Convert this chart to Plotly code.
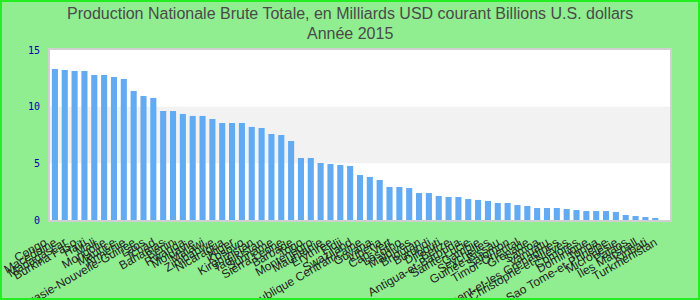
import plotly.graph_objects as go

countries = [
    "Congo", "Macédoine", "Madagascar", "Burkina Faso", "Haïti", "Mali", "Mongolie",
    "Maurice", "Arménie", "Papouasie-Nouvelle-Guinée", "Laos", "Tchad", "Bahamas",
    "Bénin", "Rwanda", "Moldavie", "Malawi", "Zimbabwe", "Nicaragua", "Niger",
    "Kosovo", "Kirghizistan", "Tadjikistan", "Suriname", "Sierra Leone", "Barbade",
    "Togo", "Monténégro", "Mauritanie", "Érythrée", "Fidji", "Swaziland",
    "République Centrafricaine", "Guyana", "Libéria", "Cap-Vert", "Lesotho",
    "Maldives", "Bhoutan", "Burundi", "Djibouti", "Belize", "Antigua-et-Barbuda",
    "Sainte-Lucie", "Gambie", "Seychelles", "Guinée-Bissau", "Salomon",
    "Timor-Oriental", "Grenade", "Samoa", "Vanuatu",
    "Saint-Vincent-et-les Grenadines", "Saint-Christophe-et-Niévès", "Comores",
    "Dominique", "Tonga", "Sao Tome-et-Principe", "Micronésie", "Palaos",
    "Îles Marshall", "Kiribati", "Turkmenistan",
]

gnp_billions = [
    13.33, 13.24, 13.15, 13.15, 12.80, 12.80, 12.62, 12.44, 11.39, 10.94, 10.77,
    9.62, 9.62, 9.36, 9.18, 9.18, 8.91, 8.56, 8.56, 8.56, 8.21, 8.12, 7.59, 7.50,
    6.97, 5.47, 5.47, 5.03, 4.94, 4.85, 4.77, 3.97, 3.80, 3.53, 2.91, 2.91, 2.82,
    2.38, 2.38, 2.12, 2.03, 2.03, 1.85, 1.77, 1.68, 1.50, 1.50, 1.32, 1.24, 1.06,
    1.06, 1.06, 0.97, 0.88, 0.79, 0.79, 0.79, 0.71, 0.44, 0.35, 0.26, 0.18, None,
]

y_ticks = [0, 5, 10, 15]
band = (5, 10)

title_lines = [
    "Production Nationale Brute Totale, en Milliards USD courant Billions U.S. dollars",
    "Année 2015",
]

L, R, T, B = 50, 30, 50, 80
W, H = 700, 300
pw, ph = W - L - R, H - T - B

fig = go.Figure(go.Bar(
    x=countries, y=gnp_billions, marker=dict(color="#62abf2", line=dict(width=0)),
))

title_font = dict(family="Liberation Sans, Arial", size=16, color="#4a4a4a")
title_rows_px = [13, 34]

fig.update_layout(
    width=W, height=H,
    margin=dict(l=L, r=R, t=T, b=B),
    paper_bgcolor="#90ee90",
    plot_bgcolor="#ffffff",
    bargap=0.38,
    showlegend=False,
    xaxis=dict(
        type="category", tickangle=-30, showgrid=False,
        tickmode="array", tickvals=countries, ticktext=countries,
        tickfont=dict(family="Liberation Sans, Arial", size=12, color="#222222"),
        showline=True, linecolor="#d0d0d0", linewidth=2, mirror=True,
        ticks="", ticklabelshift=-10, ticklabelstandoff=9,
        range=[-0.5, len(countries) - 0.5], automargin=False,
    ),
    yaxis=dict(
        range=[0, 15], tickvals=y_ticks, showgrid=False, zeroline=False,
        tickfont=dict(family="DejaVu Sans Mono, monospace", size=10, color="#0000b0"),
        showline=True, linecolor="#d0d0d0", linewidth=2, mirror=True,
        ticks="", ticklabelstandoff=6, automargin=False,
    ),
    annotations=[
        dict(text=t, xref="paper", yref="paper", x=(W / 2 - L) / pw,
             y=(T + ph - py) / ph, xanchor="center", yanchor="middle",
             showarrow=False, font=title_font)
        for t, py in zip(title_lines, title_rows_px)
    ],
    shapes=[
        dict(type="rect", xref="paper", yref="y", x0=0, x1=1, y0=band[0], y1=band[1],
             fillcolor="#f2f2f2", line=dict(width=0), layer="below"),
        dict(type="rect", xref="paper", yref="paper",
             x0=-(L - 1) / pw, x1=(pw + R - 1) / pw,
             y0=-(B - 1) / ph, y1=(ph + T - 1) / ph,
             line=dict(color="#22ee22", width=2), fillcolor="rgba(0,0,0,0)"),
    ],
)

fig.write_html("out.html")
